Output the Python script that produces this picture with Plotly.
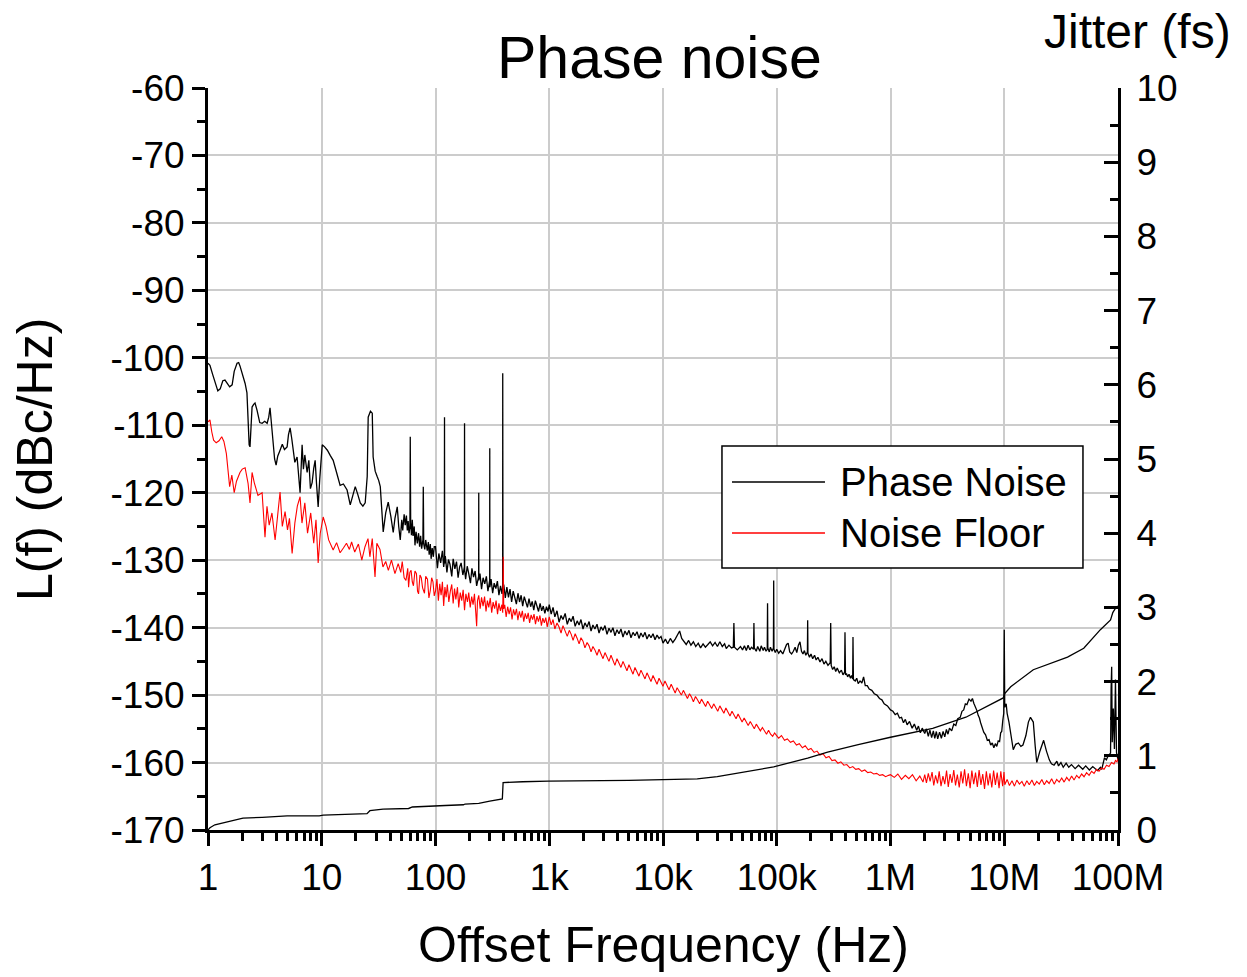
import plotly.graph_objects as go

# Measured single-sideband phase noise of the oscillator: (offset Hz, dBc/Hz)
phase_noise = [
    (1.00, -100.8), (1.04, -101.1), (1.10, -102.5), (1.16, -103.6), (1.22, -104.9), (1.28, -104.6),
    (1.35, -103.4), (1.41, -103.3), (1.48, -103.9), (1.55, -104.3), (1.63, -104.0), (1.70, -102.0),
    (1.80, -100.8), (1.86, -100.7), (1.91, -101.2), (2.00, -102.4), (2.12, -103.8), (2.20, -105.2),
    (2.25, -110.7), (2.30, -112.9), (2.34, -113.2), (2.39, -110.0), (2.44, -107.3), (2.52, -106.9),
    (2.59, -106.7), (2.70, -107.8), (2.85, -109.6), (2.99, -109.7), (3.15, -109.4), (3.31, -109.7),
    (3.42, -108.8), (3.51, -107.4), (3.60, -109.5), (3.73, -112.2), (3.85, -115.0), (3.97, -115.9),
    (4.10, -114.6), (4.30, -113.7), (4.50, -112.8), (4.70, -113.6), (4.96, -113.2), (5.10, -111.4),
    (5.27, -110.4), (5.45, -112.0), (5.60, -113.7), (5.80, -115.5), (6.07, -114.7), (6.25, -117.8),
    (6.45, -120.0), (6.60, -116.0), (6.72, -112.9), (6.90, -116.5), (7.10, -114.4), (7.44, -117.0),
    (7.70, -115.2), (7.95, -119.4), (8.23, -118.5), (8.50, -116.4), (8.75, -115.2), (9.00, -118.7),
    (9.30, -122.1), (9.60, -118.0),
    (10.1, -112.9), (10.6, -113.2), (11.2, -113.7), (11.9, -114.5), (12.6, -115.2), (13.5, -117.0),
    (14.5, -118.9), (15.5, -118.7), (16.7, -119.6), (17.8, -121.8), (18.7, -120.4), (19.7, -119.1),
    (20.7, -120.2), (21.8, -121.5), (23.0, -122.0), (24.1, -121.5), (25.1, -117.6), (25.6, -108.8),
    (26.8, -107.9), (27.8, -108.2), (28.3, -114.7), (29.5, -116.8), (30.7, -117.6), (31.7, -118.2),
    (32.7, -119.1), (34.7, -125.8), (36.5, -123.0), (38.4, -121.4), (40.5, -123.5), (42.5, -125.9),
    (44.0, -123.8), (46.1, -122.1), (47.5, -125.0), (49.0, -127.0), (50.5, -124.0), (51.5, -125.6),
    (53.0, -123.2), (54.2, -124.8), (55.5, -123.4), (56.5, -125.6), (57.5, -124.2), (58.5, -126.0),
    (59.6, -125.0), (60.0, -111.7), (60.5, -124.5), (61.5, -126.3), (62.5, -124.0), (63.5, -126.4),
    (65.0, -125.0), (66.0, -127.8), (67.5, -125.8), (69.2, -127.5), (71.0, -126.0), (72.5, -128.0),
    (74.0, -126.4), (75.5, -128.3), (77.5, -127.0), (78.1, -119.1), (78.8, -127.6), (80.5, -128.4),
    (82.0, -127.0), (84.7, -128.6), (86.5, -127.3), (88.0, -129.2), (90.0, -127.6), (91.5, -129.8),
    (93.5, -128.2), (95.7, -129.5), (97.5, -128.0),
    (100, -128.0), (104, -131.2), (107, -129.0), (111, -130.4), (115, -128.6), (118, -131.0),
    (119.6, -130.2), (120, -108.8), (120.4, -130.5), (122, -129.4), (126, -131.8), (130, -129.9),
    (134, -130.6), (139, -132.4), (143, -129.8), (148, -131.3), (153, -130.2), (158, -132.6),
    (163, -131.0), (168, -130.4), (174, -132.2), (179.5, -131.0), (180, -109.7), (180.5, -131.5),
    (184, -132.8), (190, -130.9), (196, -132.0), (203, -133.4), (209, -131.2), (216, -132.5),
    (223, -131.6), (230, -133.8), (239.5, -132.4), (240, -120.0), (240.5, -133.0), (246, -132.0),
    (254, -134.3), (262, -132.6), (271, -133.5), (280, -132.4), (289, -134.6), (299.5, -133.0),
    (300, -113.4), (300.5, -134.0), (308, -132.8), (318, -134.9), (328, -133.4), (339, -134.2),
    (350, -133.1), (361, -135.2), (373, -133.8), (384, -135.0), (389.5, -134.0), (390, -102.3),
    (391, -104.3), (392, -134.5), (398, -133.6), (411, -135.6), (424, -134.0), (438, -135.5),
    (452, -134.3), (467, -136.2), (482, -134.6), (498, -135.4), (514, -136.5), (531, -134.9),
    (548, -136.2), (566, -135.2), (584, -136.8), (603, -135.4), (623, -136.3), (643, -137.0),
    (664, -135.7), (686, -136.9), (708, -136.1), (731, -137.4), (755, -136.0), (779, -137.0),
    (805, -137.6), (831, -136.4), (858, -137.5), (886, -136.8), (915, -137.9), (945, -136.9),
    (976, -137.6),
    (1000, -136.6), (1040, -138.0), (1080, -137.0), (1120, -138.4), (1170, -137.5), (1220, -139.2),
    (1270, -138.2), (1320, -138.8), (1380, -137.9), (1440, -139.5), (1500, -138.6), (1560, -139.1),
    (1620, -138.3), (1690, -139.8), (1760, -139.0), (1830, -139.6), (1900, -138.8), (1980, -140.2),
    (2060, -139.3), (2150, -139.9), (2240, -139.1), (2330, -140.5), (2420, -139.6), (2520, -140.2),
    (2630, -139.5), (2740, -140.8), (2850, -139.9), (2970, -140.4), (3090, -139.7), (3220, -141.0),
    (3350, -140.1), (3490, -140.7), (3630, -140.0), (3780, -141.2), (3940, -140.3), (4100, -140.9),
    (4270, -140.2), (4450, -141.4), (4630, -140.5), (4820, -141.1), (5020, -140.4), (5230, -141.5),
    (5450, -140.7), (5670, -141.2), (5910, -140.6), (6150, -141.6), (6400, -140.8), (6670, -141.4),
    (6950, -140.7), (7230, -141.7), (7530, -141.0), (7840, -141.5), (8170, -140.9), (8510, -141.8),
    (8860, -141.1), (9230, -141.6), (9610, -141.3), (10000, -142.3),
    (10500, -141.7), (11000, -142.4), (11600, -141.6), (12200, -142.2), (12800, -141.7),
    (13400, -141.0), (14000, -140.5), (14600, -141.6), (15300, -142.1), (16000, -142.5),
    (16800, -141.9), (17600, -142.6), (18500, -142.1), (19400, -142.8), (20400, -142.3),
    (21400, -143.0), (22500, -142.4), (23600, -142.9), (24800, -142.5), (26000, -142.1),
    (27300, -142.7), (28700, -142.2), (30100, -142.8), (31600, -142.1), (33200, -142.8),
    (34800, -142.4), (36000, -143.1), (38000, -142.6), (40000, -143.0), (41500, -142.9),
    (42000, -139.3), (42500, -142.9), (45000, -143.3), (48000, -142.8), (50000, -143.3),
    (52000, -142.7), (54000, -143.4), (56000, -142.6), (58000, -143.3), (60000, -142.9),
    (62500, -143.2), (63000, -139.3), (63500, -143.0), (66000, -143.5), (68000, -142.8),
    (71000, -143.5), (73000, -142.7), (76000, -143.4), (78000, -142.9), (80500, -143.5),
    (82500, -143.2), (83000, -136.4), (83500, -143.0), (86000, -143.6), (88000, -142.9),
    (91000, -143.5), (93500, -143.0), (94000, -133.0), (94500, -143.2), (97000, -143.7),
    (100000, -143.2), (104000, -143.8), (108000, -143.4), (113000, -143.9), (118000, -143.0),
    (122000, -142.5), (126000, -142.3), (130000, -143.6), (135000, -143.9), (140000, -143.5),
    (145000, -142.9), (150000, -143.7), (155000, -142.6), (160000, -142.1), (165000, -143.5),
    (170000, -143.9), (175000, -143.4), (180000, -144.1), (186000, -143.6), (187000, -138.9),
    (188000, -143.8), (194000, -144.4), (200000, -143.9), (207000, -144.6), (215000, -144.1),
    (222000, -144.8), (230000, -144.4), (240000, -145.1), (250000, -144.6), (260000, -145.4),
    (270000, -145.0), (282000, -145.6), (295000, -145.2), (298000, -139.3), (301000, -145.6),
    (310000, -146.2), (320000, -145.8), (330000, -146.5), (340000, -146.0), (355000, -146.7),
    (370000, -146.3), (382000, -147.0), (395000, -146.6), (398000, -140.7), (402000, -147.0),
    (410000, -146.8), (420000, -147.3), (432000, -146.9), (445000, -147.5), (455000, -147.1),
    (465000, -147.6), (468000, -141.4), (472000, -147.7), (490000, -147.9), (505000, -147.5),
    (520000, -148.3), (540000, -147.9), (560000, -148.2), (580000, -147.3), (600000, -148.6),
    (625000, -148.6), (650000, -149.1), (685000, -149.3), (720000, -149.8), (760000, -150.0),
    (800000, -150.5), (840000, -150.7), (880000, -151.3), (940000, -151.6), (1000000, -152.2),
    (1050000, -152.4), (1100000, -152.9), (1150000, -152.7), (1200000, -153.4), (1250000, -153.3),
    (1300000, -154.1), (1350000, -153.6), (1400000, -154.4), (1470000, -153.9), (1550000, -154.9),
    (1620000, -154.3), (1700000, -155.2), (1760000, -154.6), (1830000, -155.6), (1900000, -154.9),
    (2000000, -155.7), (2070000, -155.0), (2150000, -156.1), (2220000, -155.2), (2300000, -156.3),
    (2380000, -155.3), (2450000, -156.4), (2530000, -155.4), (2600000, -156.5), (2700000, -155.5),
    (2800000, -156.4), (2900000, -155.4), (3000000, -156.2), (3100000, -155.1), (3200000, -155.8),
    (3300000, -154.9), (3450000, -155.3), (3600000, -154.3), (3750000, -154.5), (3900000, -153.5),
    (4100000, -153.3), (4250000, -152.4), (4400000, -152.2), (4550000, -151.3), (4700000, -151.4),
    (4900000, -150.6), (5100000, -150.9), (5250000, -150.5), (5400000, -151.2), (5600000, -151.8),
    (5750000, -152.3), (5900000, -153.0), (6050000, -153.4), (6200000, -154.1), (6400000, -154.8),
    (6600000, -155.5), (6850000, -155.9), (7100000, -156.7), (7350000, -156.6), (7600000, -157.4),
    (7850000, -157.1), (8100000, -157.8), (8350000, -157.2), (8600000, -157.6), (8850000, -156.8),
    (9100000, -156.9), (9300000, -155.6), (9500000, -155.4), (9700000, -153.8), (9900000, -152.7),
    (10000000, -140.3), (10100000, -151.8), (10400000, -151.3), (10600000, -152.7), (11000000, -154.0),
    (11300000, -155.2), (11700000, -157.0), (12000000, -158.1), (12600000, -157.3), (13300000, -157.1),
    (14000000, -157.6), (14600000, -157.4), (15500000, -156.0), (16300000, -154.0), (17000000, -153.3),
    (18000000, -154.0), (18700000, -157.5), (19300000, -160.0), (20500000, -158.4), (22200000, -156.7),
    (23500000, -158.3), (24900000, -159.6), (26000000, -160.2), (27400000, -160.4), (29000000, -159.8),
    (30000000, -160.5), (31500000, -160.0), (33000000, -160.7), (35000000, -160.1), (36900000, -160.7),
    (39000000, -160.3), (42000000, -160.9), (45000000, -160.4), (49000000, -161.0), (52000000, -160.5),
    (56000000, -161.1), (60000000, -160.6), (66000000, -161.2), (70000000, -160.7), (72000000, -161.0),
    (76000000, -159.3), (79000000, -159.6), (82000000, -159.0), (86000000, -158.6), (87000000, -149.0),
    (88000000, -145.8), (89000000, -157.0), (91000000, -152.0), (93000000, -158.0), (95000000, -147.7),
    (97000000, -158.5), (100000000, -159.6),
]

# Instrument noise floor: (offset Hz, dBc/Hz)
noise_floor = [
    (1.00, -109.5), (1.04, -109.2), (1.08, -111.0), (1.12, -112.2), (1.18, -112.6), (1.25, -112.3),
    (1.32, -111.7), (1.38, -112.4), (1.45, -114.2), (1.50, -117.0), (1.55, -119.1), (1.62, -117.4),
    (1.70, -120.0), (1.78, -118.3), (1.91, -117.0), (2.00, -116.5), (2.12, -116.3), (2.25, -118.6),
    (2.34, -121.5), (2.44, -117.0), (2.55, -118.5), (2.75, -120.4), (2.99, -120.0), (3.17, -126.6),
    (3.30, -122.0), (3.45, -124.8), (3.65, -123.0), (3.89, -127.0), (4.05, -124.5), (4.30, -119.9),
    (4.50, -125.0), (4.76, -122.8), (5.00, -125.5), (5.20, -123.8), (5.49, -129.0), (5.80, -124.5),
    (6.10, -122.0), (6.45, -120.6), (6.70, -124.5), (7.10, -121.5), (7.50, -126.0), (8.00, -123.0),
    (8.50, -127.5), (8.90, -124.0), (9.30, -130.4), (9.70, -126.0),
    (10.3, -123.6), (10.9, -125.0), (11.5, -127.0), (12.6, -128.5), (13.5, -127.4), (14.5, -128.9),
    (15.5, -128.2), (16.5, -127.5), (17.5, -128.4), (18.3, -127.3), (19.5, -128.8), (21.0, -127.6),
    (22.5, -130.0), (24.0, -128.0), (25.5, -126.8), (26.5, -129.5), (27.8, -126.8), (29.4, -132.5),
    (30.5, -127.5), (32.5, -128.4), (34.5, -131.0), (36.5, -130.2), (38.5, -131.5), (41.0, -130.0),
    (44.0, -132.0), (47.0, -130.5), (49.5, -131.8), (51.0, -130.2), (53.0, -132.6), (55.0, -133.0),
    (57.0, -131.2), (58.0, -134.0), (59.5, -131.8), (61.0, -131.5), (62.5, -133.2), (64.0, -133.8),
    (66.0, -131.6), (68.0, -132.0), (69.5, -134.6), (71.0, -135.0), (73.0, -132.2), (75.0, -132.6),
    (77.0, -134.1), (80.0, -134.9), (82.0, -132.4), (85.0, -132.8), (87.5, -135.6), (90.0, -134.5),
    (92.5, -132.6), (95.0, -133.2), (97.5, -135.3),
    (100, -134.6), (103, -132.8), (106, -136.0), (109, -133.5), (112, -135.2), (115, -133.2),
    (118, -136.8), (121, -134.0), (124, -135.5), (127, -133.6), (131, -136.2), (135, -134.6),
    (139, -133.6), (143, -136.4), (147, -134.2), (151, -135.8), (156, -134.0), (160, -137.0),
    (165, -134.8), (170, -136.0), (175, -134.4), (180, -137.4), (185, -135.0), (191, -136.2),
    (196, -134.8), (202, -137.0), (208, -135.4), (214, -136.6), (220, -135.0), (226, -137.8),
    (230, -139.8), (234, -136.0), (240, -135.2), (247, -137.2), (254, -135.5), (262, -136.8),
    (270, -135.4), (278, -137.6), (286, -136.0), (294, -137.0), (303, -135.6), (312, -137.8),
    (321, -136.2), (331, -137.2), (341, -136.0), (351, -138.0), (361, -136.4), (372, -137.5),
    (383, -136.6), (390, -137.8), (394, -129.5), (398, -137.2), (406, -136.6), (418, -138.4),
    (431, -136.9), (444, -138.0), (457, -137.0), (471, -138.8), (485, -137.3), (500, -138.2),
    (515, -137.2), (530, -138.9), (546, -137.6), (563, -138.5), (580, -137.5), (597, -139.1),
    (615, -137.9), (634, -138.7), (653, -137.8), (672, -139.3), (693, -138.1), (714, -138.8),
    (735, -138.0), (757, -139.5), (780, -138.3), (804, -139.1), (828, -138.2), (853, -139.7),
    (878, -138.6), (905, -139.3), (932, -138.5), (960, -139.9), (985, -138.8),
    (1000, -138.4), (1040, -139.6), (1080, -138.8), (1120, -140.2), (1170, -139.3), (1220, -139.9),
    (1270, -140.8), (1320, -139.7), (1380, -140.5), (1440, -141.3), (1500, -140.4), (1560, -141.0),
    (1620, -141.9), (1690, -140.9), (1760, -141.6), (1830, -142.4), (1900, -141.5), (1980, -142.0),
    (2060, -143.0), (2150, -142.2), (2240, -142.7), (2330, -143.6), (2420, -142.8), (2520, -143.3),
    (2630, -144.1), (2740, -143.2), (2850, -143.9), (2970, -144.6), (3090, -143.7), (3220, -144.3),
    (3350, -145.0), (3490, -144.1), (3630, -144.8), (3780, -145.6), (3940, -144.6), (4100, -145.2),
    (4270, -145.9), (4450, -145.0), (4630, -145.7), (4820, -146.4), (5020, -145.5), (5230, -146.1),
    (5450, -146.9), (5670, -145.9), (5910, -146.6), (6150, -147.2), (6400, -146.3), (6670, -147.0),
    (6950, -147.6), (7230, -146.7), (7530, -147.3), (7840, -148.0), (8170, -147.1), (8510, -147.8),
    (8860, -148.4), (9230, -147.5), (9610, -148.1), (10000, -148.7), (10400, -147.9), (10900, -148.6),
    (11300, -149.2), (11800, -148.4), (12300, -149.0), (12800, -149.7), (13300, -148.9), (13900, -149.4),
    (14500, -150.0), (15100, -149.3), (15700, -149.9), (16400, -150.5), (17100, -149.8), (17800, -150.3),
    (18500, -151.0), (19300, -150.2), (20100, -150.7), (21000, -151.3), (21800, -150.6), (22800, -151.1),
    (23700, -151.7), (24700, -150.9), (25700, -151.4), (26800, -152.0), (27900, -151.3), (29100, -151.8),
    (30300, -152.4), (31600, -151.6), (32900, -152.1), (34300, -152.7), (35700, -151.9), (37200, -152.5),
    (38800, -153.1), (40400, -152.4), (42100, -152.9), (43900, -153.5), (45700, -152.8), (47600, -153.3),
    (49600, -154.0), (51700, -153.4), (53900, -154.0), (56100, -154.5), (58500, -153.9), (60900, -154.4),
    (63500, -155.0), (66100, -154.3), (68900, -154.9), (71800, -155.3), (74800, -154.8), (78000, -155.4),
    (81300, -155.8), (84700, -155.2), (88300, -155.8), (92000, -156.1), (95800, -155.6), (99800, -156.0),
    (104000, -156.4), (110000, -156.0), (117000, -156.7), (124000, -156.5), (132000, -157.0),
    (140000, -156.8), (149000, -157.4), (158000, -157.2), (168000, -157.8), (178000, -157.5),
    (189000, -158.1), (200000, -157.9), (213000, -158.5), (226000, -158.3), (240000, -158.9),
    (255000, -158.7), (271000, -159.3), (288000, -159.1), (306000, -159.7), (325000, -159.6),
    (345000, -160.1), (366000, -159.9), (389000, -160.4), (413000, -160.3), (439000, -160.8),
    (466000, -160.6), (495000, -161.0), (526000, -160.9), (559000, -161.3), (594000, -161.1),
    (631000, -161.5), (670000, -161.4), (712000, -161.7), (756000, -161.6), (803000, -161.9),
    (853000, -161.8), (906000, -162.1), (962000, -161.9),
    (1000000, -161.8), (1080000, -162.2), (1160000, -161.7), (1250000, -162.5), (1350000, -161.9),
    (1450000, -162.4), (1560000, -161.8), (1680000, -162.7), (1810000, -162.0), (1930000, -162.9),
    (2000000, -161.8), (2070000, -163.0), (2150000, -161.6), (2230000, -162.8), (2320000, -161.4),
    (2400000, -163.4), (2490000, -161.9), (2590000, -163.1), (2680000, -161.3), (2780000, -163.5),
    (2890000, -162.0), (3000000, -163.2), (3110000, -161.2), (3220000, -163.6), (3340000, -161.7),
    (3470000, -163.0), (3600000, -161.1), (3730000, -163.4), (3870000, -161.8), (4020000, -163.7),
    (4170000, -161.3), (4320000, -163.1), (4480000, -161.0), (4650000, -163.5), (4830000, -161.6),
    (5010000, -163.8), (5190000, -161.2), (5390000, -163.2), (5590000, -161.5), (5800000, -163.6),
    (6010000, -161.1), (6240000, -163.3), (6470000, -161.7), (6710000, -163.9), (6960000, -161.3),
    (7220000, -163.4), (7490000, -161.6), (7770000, -163.7), (8060000, -161.2), (8360000, -163.3),
    (8670000, -161.5), (9000000, -163.8), (9330000, -161.3), (9680000, -163.5), (9950000, -161.4),
    (10100000, -163.3), (10600000, -162.5), (11100000, -163.4), (11700000, -162.7), (12300000, -163.5),
    (12900000, -162.6), (13600000, -163.2), (14300000, -162.8), (15000000, -163.5), (15800000, -162.7),
    (16600000, -163.3), (17500000, -162.6), (18400000, -163.4), (19300000, -162.8), (20300000, -163.2),
    (21400000, -162.5), (22500000, -163.3), (23600000, -162.7), (24800000, -163.1), (26100000, -162.4),
    (27500000, -163.2), (28900000, -162.5), (30400000, -162.9), (32000000, -162.3), (33600000, -162.9),
    (35400000, -162.2), (37200000, -162.7), (39100000, -162.0), (41100000, -162.6), (43300000, -161.9),
    (45500000, -162.3), (47900000, -161.7), (50300000, -162.1), (52900000, -161.5), (55700000, -161.9),
    (58600000, -161.3), (61600000, -161.6), (64800000, -161.0), (68100000, -161.3), (71700000, -160.8),
    (75400000, -161.0), (79300000, -160.4), (83400000, -160.6), (87700000, -160.0), (92200000, -160.2),
    (95000000, -159.7), (98000000, -159.9), (100000000, -159.4),
]

# Integrated RMS jitter from 1 Hz up to each offset: (offset Hz, fs)
jitter = [
    (1.00, 0.00), (1.04, 0.03), (1.15, 0.07), (1.30, 0.09), (1.60, 0.12), (2.03, 0.16),
    (3.00, 0.17), (3.60, 0.18), (4.96, 0.19), (9.50, 0.19), (10.3, 0.20), (25.0, 0.22),
    (26.5, 0.26), (34.6, 0.28), (58.0, 0.29), (62.6, 0.31), (118, 0.32), (122, 0.33),
    (176, 0.34), (182, 0.35), (240, 0.36), (292, 0.38), (300, 0.39), (387, 0.42),
    (393, 0.64), (582, 0.65), (980, 0.66), (5000, 0.67), (20000, 0.69), (30000, 0.72),
    (48000, 0.77), (94000, 0.85), (187000, 0.97), (280000, 1.05), (520000, 1.15),
    (1000000, 1.25), (2350000, 1.37), (4600000, 1.52), (9800000, 1.78), (10100000, 1.84),
    (11400000, 1.93), (18000000, 2.16), (36000000, 2.33), (50000000, 2.45), (70000000, 2.70),
    (86000000, 2.83), (90000000, 2.93), (96000000, 3.00), (100000000, 3.02),
]

x_tick_vals = [1, 10, 100, 1e3, 1e4, 1e5, 1e6, 1e7, 1e8]
x_tick_text = ["1", "10", "100", "1k", "10k", "100k", "1M", "10M", "100M"]
y_tick_vals = [-170, -160, -150, -140, -130, -120, -110, -100, -90, -80, -70, -60]
y2_tick_vals = [0, 1, 2, 3, 4, 5, 6, 7, 8, 9, 10]
series_names = ["Phase Noise", "Noise Floor"]
series_colors = ["#000000", "#ff0000"]

FONT = "Liberation Sans, Arial, sans-serif"
INK = "#000000"
GRID = "#cccccc"
TICK_SIZE = 37


def unzip(pairs):
    return [p[0] for p in pairs], [p[1] for p in pairs]


fig = go.Figure()

for name, color, data, width in [
    (series_names[0], series_colors[0], phase_noise, 1.3),
    (series_names[1], series_colors[1], noise_floor, 1.1),
]:
    fx, fy = unzip(data)
    fig.add_trace(go.Scatter(x=fx, y=fy, mode="lines", name=name,
                             line=dict(color=color, width=width), showlegend=False))

jx, jy = unzip(jitter)
fig.add_trace(go.Scatter(x=jx, y=jy, mode="lines", name="Jitter", yaxis="y2",
                         line=dict(color=INK, width=1.3), showlegend=False))

minor_x = [m * 10 ** d for d in range(8) for m in range(2, 10)]

fig.update_layout(
    width=1247, height=977,
    margin=dict(l=208, r=129, t=88, b=147, autoexpand=False),
    paper_bgcolor="white", plot_bgcolor="white",
    font=dict(family=FONT, color=INK, size=TICK_SIZE),
    xaxis=dict(
        type="log", range=[0, 8],
        tickmode="array", tickvals=x_tick_vals, ticktext=x_tick_text,
        ticks="outside", ticklen=13, tickwidth=2.5, tickcolor=INK,
        showline=True, linewidth=3, linecolor=INK, mirror=False,
        showgrid=True, gridcolor=GRID, gridwidth=1.5, zeroline=False,
        tickfont=dict(size=TICK_SIZE, family=FONT, color=INK),
        minor=dict(tickmode="array", tickvals=minor_x, ticks="outside",
                   ticklen=8, tickwidth=2.5, tickcolor=INK, showgrid=False),
    ),
    yaxis=dict(
        range=[-170, -60], tickmode="array", tickvals=y_tick_vals,
        ticktext=[str(v) for v in y_tick_vals],
        ticks="outside", ticklen=13, tickwidth=2.5, tickcolor=INK,
        showline=True, linewidth=3, linecolor=INK,
        showgrid=True, gridcolor=GRID, gridwidth=1.5, zeroline=False,
        tickfont=dict(size=TICK_SIZE, family=FONT, color=INK),
        minor=dict(dtick=5, tick0=-170, ticks="outside", ticklen=8, tickwidth=2.5,
                   tickcolor=INK, showgrid=False),
    ),
    yaxis2=dict(
        overlaying="y", side="right", range=[0, 10], tickmode="array",
        tickvals=y2_tick_vals, ticktext=[str(v) for v in y2_tick_vals],
        ticks="inside", ticklen=14, tickwidth=2.5, tickcolor=INK,
        showline=True, linewidth=3, linecolor=INK,
        showgrid=False, zeroline=False, ticklabelstandoff=8,
        tickfont=dict(size=TICK_SIZE, family=FONT, color=INK),
        minor=dict(dtick=0.5, tick0=0, ticks="inside", ticklen=8, tickwidth=2.5,
                   tickcolor=INK, showgrid=False),
    ),
)

# Titles
fig.add_annotation(text="Phase noise", xref="paper", yref="paper", x=0.4967, y=1.0404,
                   xanchor="center", yanchor="middle", showarrow=False,
                   font=dict(size=59, family=FONT, color=INK))
fig.add_annotation(text="Jitter (fs)", xref="paper", yref="paper", x=1.0209, y=1.0755,
                   xanchor="center", yanchor="middle", showarrow=False,
                   font=dict(size=48, family=FONT, color=INK))
fig.add_annotation(text="Offset Frequency (Hz)", xref="paper", yref="paper", x=0.5, y=-0.155,
                   xanchor="center", yanchor="middle", showarrow=False,
                   font=dict(size=50, family=FONT, color=INK))
fig.add_annotation(text="L(f) (dBc/Hz)", xref="paper", yref="paper", x=-0.190, y=0.4987,
                   xanchor="center", yanchor="middle", showarrow=False, textangle=-90,
                   font=dict(size=50, family=FONT, color=INK))

# Legend box with long line samples
fig.add_shape(type="rect", xref="paper", yref="paper", x0=0.5648, x1=0.9615, y0=0.3531, y1=0.5175,
              line=dict(color=INK, width=1.5), fillcolor="white", layer="above")
for name, color, ly in zip(series_names, series_colors, [0.469, 0.4003]):
    fig.add_shape(type="line", xref="paper", yref="paper", x0=0.5758, x1=0.678, y0=ly, y1=ly,
                  line=dict(color=color, width=1.3), layer="above")
    fig.add_annotation(text=name, xref="paper", yref="paper", x=0.6923, y=ly,
                       xanchor="left", yanchor="middle", showarrow=False,
                       font=dict(size=40, family=FONT, color=INK))

fig.write_html("out.html")
